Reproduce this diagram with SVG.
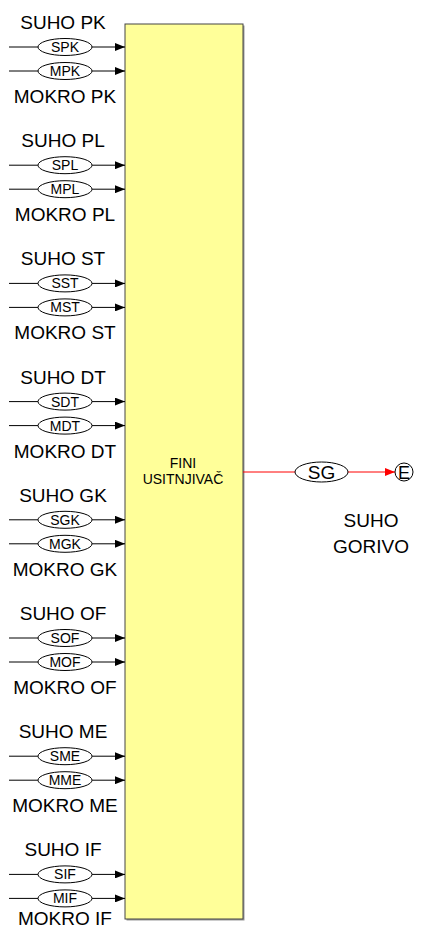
<svg xmlns="http://www.w3.org/2000/svg" width="421" height="929" viewBox="0 0 421 929">
<style>
.lbl{font-family:"Liberation Sans",Arial,sans-serif;font-size:19px;fill:#000;text-anchor:middle}
.sm{font-family:"Liberation Sans",Arial,sans-serif;font-size:14px;fill:#000;text-anchor:middle}
.el{fill:#fff;stroke:#000;stroke-width:1}
.ln{stroke:#000;stroke-width:1;fill:none}
</style>
<defs>
<marker id="ab" markerWidth="10" markerHeight="8" refX="10" refY="4" orient="auto" markerUnits="userSpaceOnUse"><path d="M0,0L10,4L0,8z" fill="#000"/></marker>
<marker id="ar" markerWidth="10" markerHeight="8" refX="10" refY="4" orient="auto" markerUnits="userSpaceOnUse"><path d="M0,0L10,4L0,8z" fill="#f00"/></marker>
<g id="pair">
<line class="ln" x1="9" y1="0" x2="38" y2="0"/>
<line class="ln" x1="92" y1="0" x2="125" y2="0" marker-end="url(#ab)"/>
</g>
</defs>
<g id="fini">
<rect x="126.5" y="25.5" width="118" height="895" fill="#9a9a9a"/>
<rect x="125" y="24" width="118" height="895" fill="#ffff99" stroke="#444" stroke-width="1"/>
<text class="sm" x="183" y="468">FINI</text>
<text class="sm" x="183" y="484">USITNJIVAČ</text>
</g>
<g id="connectors">
<line x1="243" y1="472" x2="295" y2="472" stroke="#f00" stroke-width="1"/>
<line x1="348" y1="472" x2="395" y2="472" stroke="#f00" stroke-width="1" marker-end="url(#ar)"/>
</g>
<g id="sg">
<ellipse class="el" cx="321.5" cy="472" rx="26.5" ry="10"/>
<text class="lbl" x="321.5" y="479">SG</text>
</g>
<g id="e">
<circle class="el" cx="404" cy="472" r="9"/>
<text class="lbl" x="404" y="479" style="font-size:18px">E</text>
</g>
<g id="suho-gorivo">
<text class="lbl" x="371" y="527">SUHO</text>
<text class="lbl" x="371" y="553">GORIVO</text>
</g>
<g id="pk" transform="translate(0,0)">
<text class="lbl" x="63" y="29">SUHO PK</text>
<use href="#pair" y="47"/><ellipse class="el" cx="65" cy="47" rx="27" ry="8.5"/><text class="sm" x="65" y="52">SPK</text>
<use href="#pair" y="71"/><ellipse class="el" cx="65" cy="71" rx="27" ry="8.5"/><text class="sm" x="65" y="76">MPK</text>
<text class="lbl" x="65" y="103">MOKRO PK</text>
</g>
<g id="pl" transform="translate(0,118.2)">
<text class="lbl" x="63" y="29">SUHO PL</text>
<use href="#pair" y="47"/><ellipse class="el" cx="65" cy="47" rx="27" ry="8.5"/><text class="sm" x="65" y="52">SPL</text>
<use href="#pair" y="71"/><ellipse class="el" cx="65" cy="71" rx="27" ry="8.5"/><text class="sm" x="65" y="76">MPL</text>
<text class="lbl" x="65" y="103">MOKRO PL</text>
</g>
<g id="st" transform="translate(0,236.4)">
<text class="lbl" x="63" y="29">SUHO ST</text>
<use href="#pair" y="47"/><ellipse class="el" cx="65" cy="47" rx="27" ry="8.5"/><text class="sm" x="65" y="52">SST</text>
<use href="#pair" y="71"/><ellipse class="el" cx="65" cy="71" rx="27" ry="8.5"/><text class="sm" x="65" y="76">MST</text>
<text class="lbl" x="65" y="103">MOKRO ST</text>
</g>
<g id="dt" transform="translate(0,354.6)">
<text class="lbl" x="63" y="29">SUHO DT</text>
<use href="#pair" y="47"/><ellipse class="el" cx="65" cy="47" rx="27" ry="8.5"/><text class="sm" x="65" y="52">SDT</text>
<use href="#pair" y="71"/><ellipse class="el" cx="65" cy="71" rx="27" ry="8.5"/><text class="sm" x="65" y="76">MDT</text>
<text class="lbl" x="65" y="103">MOKRO DT</text>
</g>
<g id="gk" transform="translate(0,472.8)">
<text class="lbl" x="63" y="29">SUHO GK</text>
<use href="#pair" y="47"/><ellipse class="el" cx="65" cy="47" rx="27" ry="8.5"/><text class="sm" x="65" y="52">SGK</text>
<use href="#pair" y="71"/><ellipse class="el" cx="65" cy="71" rx="27" ry="8.5"/><text class="sm" x="65" y="76">MGK</text>
<text class="lbl" x="65" y="103">MOKRO GK</text>
</g>
<g id="of" transform="translate(0,591)">
<text class="lbl" x="63" y="29">SUHO OF</text>
<use href="#pair" y="47"/><ellipse class="el" cx="65" cy="47" rx="27" ry="8.5"/><text class="sm" x="65" y="52">SOF</text>
<use href="#pair" y="71"/><ellipse class="el" cx="65" cy="71" rx="27" ry="8.5"/><text class="sm" x="65" y="76">MOF</text>
<text class="lbl" x="65" y="103">MOKRO OF</text>
</g>
<g id="me" transform="translate(0,709.2)">
<text class="lbl" x="63" y="29">SUHO ME</text>
<use href="#pair" y="47"/><ellipse class="el" cx="65" cy="47" rx="27" ry="8.5"/><text class="sm" x="65" y="52">SME</text>
<use href="#pair" y="71"/><ellipse class="el" cx="65" cy="71" rx="27" ry="8.5"/><text class="sm" x="65" y="76">MME</text>
<text class="lbl" x="65" y="103">MOKRO ME</text>
</g>
<g id="if" transform="translate(0,827.4)">
<text class="lbl" x="63" y="29">SUHO IF</text>
<use href="#pair" y="47"/><ellipse class="el" cx="65" cy="47" rx="27" ry="8.5"/><text class="sm" x="65" y="52">SIF</text>
<use href="#pair" y="71"/><ellipse class="el" cx="65" cy="71" rx="27" ry="8.5"/><text class="sm" x="65" y="76">MIF</text>
<text class="lbl" x="65" y="98">MOKRO IF</text>
</g>
</svg>
